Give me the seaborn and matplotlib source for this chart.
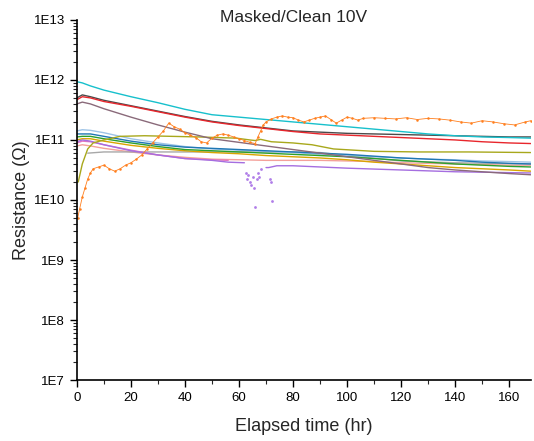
import numpy as np
import pandas as pd
import matplotlib
matplotlib.use("Agg")
import matplotlib.pyplot as plt
import matplotlib.ticker as mticker
import seaborn as sns

# ---------------- data (log10 of resistance in ohm) ----------------
t_main = [0, 2, 5, 10, 20, 30, 40, 50, 60, 70, 80, 90, 100, 110, 120, 130, 140, 150, 160, 168]

cyan_log = [11.97, 11.95, 11.90, 11.83, 11.72, 11.62, 11.51, 11.42, 11.38, 11.34, 11.30, 11.26, 11.22, 11.18, 11.14, 11.10, 11.07, 11.05, 11.04, 11.03]
red_log = [11.67, 11.72, 11.70, 11.64, 11.56, 11.47, 11.38, 11.30, 11.24, 11.19, 11.14, 11.10, 11.08, 11.06, 11.04, 11.02, 11.00, 10.97, 10.95, 10.94]
dkgray_log = [11.70, 11.75, 11.72, 11.66, 11.57, 11.48, 11.39, 11.31, 11.25, 11.20, 11.15, 11.13, 11.11, 11.10, 11.09, 11.08, 11.07, 11.06, 11.05, 11.05]
mauve_log = [11.60, 11.63, 11.60, 11.52, 11.38, 11.25, 11.13, 11.02, 10.96, 10.90, 10.84, 10.78, 10.72, 10.66, 10.60, 10.54, 10.50, 10.47, 10.44, 10.42]
ltblue_log = [11.15, 11.17, 11.16, 11.12, 11.02, 10.95, 10.89, 10.85, 10.83, 10.81, 10.79, 10.76, 10.74, 10.72, 10.70, 10.68, 10.67, 10.65, 10.64, 10.63]
blue_log = [11.10, 11.10, 11.10, 11.06, 10.98, 10.92, 10.88, 10.86, 10.84, 10.82, 10.80, 10.78, 10.76, 10.73, 10.70, 10.68, 10.66, 10.63, 10.61, 10.60]
green_log = [11.05, 11.06, 11.06, 11.02, 10.95, 10.89, 10.84, 10.82, 10.80, 10.78, 10.76, 10.74, 10.72, 10.69, 10.66, 10.63, 10.60, 10.58, 10.56, 10.55]
gold_log = [11.00, 11.02, 11.02, 10.98, 10.91, 10.86, 10.82, 10.79, 10.77, 10.74, 10.72, 10.70, 10.67, 10.63, 10.60, 10.57, 10.54, 10.52, 10.50, 10.48]
ltred_log = [10.90, 10.92, 10.90, 10.86, 10.80, 10.75, 10.71, 10.68, 10.67, 10.66, 10.66, 10.66, 10.65, 10.64, 10.62, 10.61, 10.60, 10.59, 10.58, 10.58]

t_olive = [0.5, 2, 4, 6, 10, 16, 25, 35, 45, 59, 64, 66, 68, 72, 80, 87, 95, 110, 127, 145, 168]
olive_log = [10.30, 10.60, 10.85, 10.95, 11.00, 11.06, 11.07, 11.06, 11.05, 11.03, 11.00, 10.99, 11.01, 10.97, 10.95, 10.92, 10.85, 10.81, 10.80, 10.80, 10.79]

t_gray = [4, 10, 20, 40, 60, 80, 90, 100, 120, 140, 168]
gray_log = [10.78, 10.80, 10.80, 10.80, 10.80, 10.80, 10.79, 10.74, 10.65, 10.62, 10.60]

t_pink = [0, 2, 5, 10, 20, 30, 40, 50, 56]
pink_log = [10.95, 10.98, 10.97, 10.92, 10.83, 10.75, 10.69, 10.67, 10.66]

t_purple = [0, 2, 5, 10, 20, 30, 40, 50, 56, 62, 68, 70, 71, 74, 80, 90, 100, 120, 140, 168]
purple_log = [10.97, 11.00, 10.98, 10.92, 10.82, 10.75, 10.69, 10.66, 10.63, 10.62, np.nan, 10.54, 10.54, 10.57, 10.57, 10.55, 10.53, 10.50, 10.47, 10.45]
t_purple_dip = [62.5, 63, 63.5, 64, 64.5, 65, 65.5, 66, 66.5, 67, 67.5, 68, 71.5, 72, 72.3]
purple_dip_log = [10.45, 10.35, 10.42, 10.30, 10.25, 10.38, 10.20, 9.88, 10.35, 10.45, 10.38, 10.52, 10.35, 10.30, 9.98]

t_orange = [0.3, 1, 2, 3, 4, 5, 6, 8, 10, 12, 14, 16, 18, 20, 22, 24, 26, 28, 30, 32, 34, 36, 38, 40,
            42, 44, 46, 48, 50, 52, 54, 56, 58, 60, 62, 64, 66, 67, 68, 69, 70, 72, 74, 76, 78, 80,
            82, 84, 86, 88, 90, 92, 94, 96, 98, 100, 102, 104, 106, 110, 114, 118, 122, 126, 130,
            134, 138, 142, 146, 150, 154, 158, 162, 166, 168]
orange_log = [9.70, 9.85, 10.05, 10.20, 10.35, 10.45, 10.52, 10.55, 10.58, 10.52, 10.48, 10.52, 10.58,
              10.62, 10.68, 10.75, 10.85, 10.95, 11.05, 11.15, 11.28, 11.22, 11.18, 11.12, 11.08, 11.04,
              10.97, 10.95, 11.03, 11.08, 11.10, 11.08, 11.05, 11.02, 10.99, 10.96, 10.94, 11.05, 11.15,
              11.25, 11.30, 11.35, 11.38, 11.40, 11.38, 11.37, 11.33, 11.30, 11.33, 11.36, 11.38, 11.40,
              11.34, 11.28, 11.33, 11.38, 11.36, 11.33, 11.36, 11.37, 11.36, 11.35, 11.37, 11.34, 11.36,
              11.35, 11.33, 11.30, 11.28, 11.32, 11.30, 11.27, 11.25, 11.30, 11.32]

y_ticks = [1e7, 1e8, 1e9, 1e10, 1e11, 1e12, 1e13]
y_tick_labels = ["1E7", "1E8", "1E9", "1E10", "1E11", "1E12", "1E13"]
x_ticks = [0, 20, 40, 60, 80, 100, 120, 140, 160]

# ---------------- build long table ----------------
series = [
    ("light red", t_main, ltred_log, "#f4a09a"),
    ("gray", t_gray, gray_log, "#a8a8a8"),
    ("light blue", t_main, ltblue_log, "#9dc3e6"),
    ("gold", t_main, gold_log, "#d9a400"),
    ("green", t_main, green_log, "#2ca02c"),
    ("blue", t_main, blue_log, "#1f77b4"),
    ("pink", t_pink, pink_log, "#e377c2"),
    ("purple", t_purple, purple_log, "#a56ee0"),
    ("olive", t_olive, olive_log, "#a8a81c"),
    ("mauve", t_main, mauve_log, "#8a6a7a"),
    ("dark gray", t_main, dkgray_log, "#4a4a4a"),
    ("red", t_main, red_log, "#e8262c"),
    ("cyan", t_main, cyan_log, "#17c0cc"),
]
rows = []
for name, tt, vv, _ in series:
    for a, b in zip(tt, vv):
        rows.append((name, a, 10 ** b if not np.isnan(b) else np.nan))
df = pd.DataFrame(rows, columns=["series", "t", "R"])

df_orange = pd.DataFrame({"t": t_orange, "R": np.power(10.0, orange_log)})
df_dip = pd.DataFrame({"t": t_purple_dip, "R": np.power(10.0, purple_dip_log)})

# ---------------- plot ----------------
sns.set_style("ticks")
plt.rcParams["font.family"] = ["Liberation Sans", "DejaVu Sans"]

fig = plt.figure(figsize=(5.34, 4.41), dpi=100)
ax = fig.add_axes([0.144, 0.138, 0.85, 0.817])

for name, _, _, c in series:
    sub = df[df["series"] == name]
    ax.plot(sub["t"], sub["R"], color=c, lw=1.0, solid_capstyle="round")
sns.lineplot(data=df_orange, x="t", y="R", ax=ax, color="#ff7f1e", lw=0.6,
             marker="o", markersize=1.8, markeredgewidth=0, estimator=None, sort=False)
sns.scatterplot(data=df_dip, x="t", y="R", ax=ax, color="#b07ee8", s=4, linewidth=0)

ax.set_yscale("log")
ax.set_ylim(1e7, 1e13)
ax.set_xlim(0, 168)
ax.yaxis.set_major_locator(mticker.FixedLocator(y_ticks))
ax.yaxis.set_major_formatter(mticker.FixedFormatter(y_tick_labels))
ax.yaxis.set_minor_locator(mticker.LogLocator(base=10, subs=np.arange(2, 10)))
ax.yaxis.set_minor_formatter(mticker.NullFormatter())
ax.xaxis.set_major_locator(mticker.FixedLocator(x_ticks))
ax.xaxis.set_minor_locator(mticker.MultipleLocator(10))

ax.tick_params(axis="both", which="major", direction="out", length=5, width=1, labelsize=9.5, colors="black")
ax.tick_params(axis="both", which="minor", direction="out", length=3, width=0.8)
for s in ["left", "bottom"]:
    ax.spines[s].set_linewidth(1.2)
    ax.spines[s].set_color("black")
sns.despine(ax=ax)

ax.set_xlabel("Elapsed time (hr)", fontsize=13, labelpad=10)
ax.set_ylabel("Resistance (\u03a9)", fontsize=13, labelpad=3)
fig.text(294 / 534, 1 - 17 / 441, "Masked/Clean 10V", fontsize=12.5, ha="center", va="center")

fig.savefig("out.png", dpi=100)
